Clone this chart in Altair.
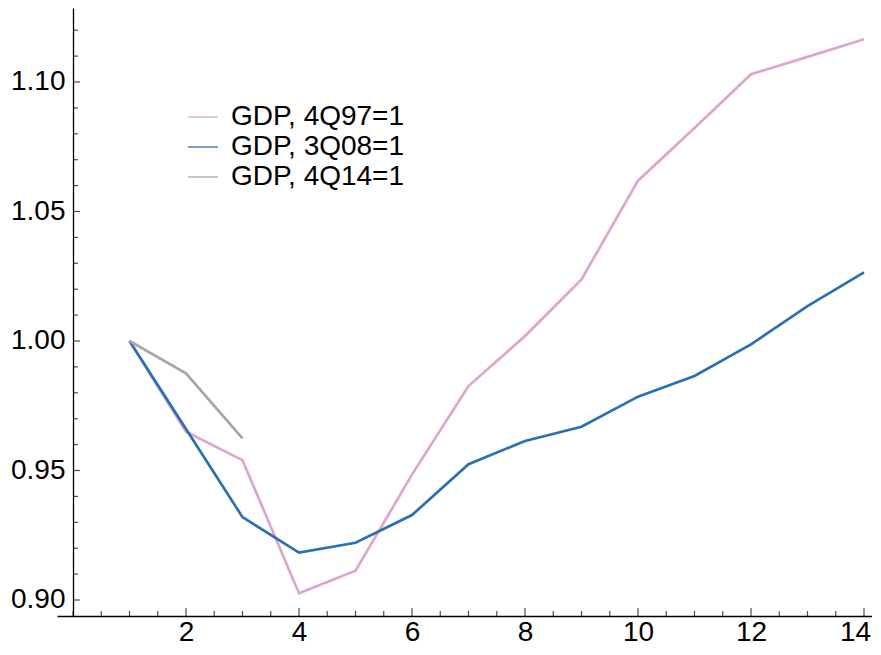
import altair as alt
import pandas as pd

# ---- data ----
quarters = list(range(1, 15))
gdp_4q97 = [1.000, 0.965, 0.954, 0.9026, 0.9113, 0.9484, 0.9826, 1.0019, 1.0238,
            1.0619, 1.0822, 1.103, 1.1097, 1.1165]
gdp_3q08 = [1.000, 0.966, 0.932, 0.9183, 0.9221, 0.9328, 0.9524, 0.9614, 0.9669,
            0.9785, 0.9865, 0.9987, 1.0135, 1.0265]
gdp_4q14 = [1.000, 0.9875, 0.9624]

series_names = ["GDP, 4Q97=1", "GDP, 3Q08=1", "GDP, 4Q14=1"]
series_colors = ["#DDA6CF", "#2C6FB3", "#A6A6A6"]

x_major = [2, 4, 6, 8, 10, 12, 14]
x_minor = [v / 2 for v in range(0, 29)]
y_major = [0.90, 0.95, 1.00, 1.05, 1.10]
y_minor = [round(0.90 + i * 0.01, 2) for i in range(0, 23)]

XDOM = [-0.28319, 14.1416]
YDOM = [0.893822, 1.12857]

rows = []
for name, vals in zip(series_names, [gdp_4q97, gdp_3q08, gdp_4q14]):
    for q, v in zip(quarters, vals):
        rows.append({"q": q, "v": v, "series": name})
df = pd.DataFrame(rows)

FONT = "Liberation Sans"
FS = 28
xscale = alt.Scale(domain=XDOM, nice=False, zero=False)
yscale = alt.Scale(domain=YDOM, nice=False, zero=False)
cscale = alt.Scale(domain=series_names, range=series_colors)

xaxis = alt.Axis(values=x_major, ticks=False, grid=False, labelFontSize=FS, labelFont=FONT,
                 labelColor="black", labelPadding=2, domainColor="black", domainWidth=1.3,
                 title=None, format="d", labelFlush=False,
                 labelOffset={"condition": {"test": "datum.value === 14", "value": -9}, "value": 0})
yaxis = alt.Axis(values=y_major, ticks=False, grid=False, labelFontSize=FS, labelFont=FONT,
                 labelColor="black", labelPadding=8, domainColor="black", domainWidth=1.3,
                 title=None, format=".2f", offset=-16, labelFlush=False)


def line_layer(name, legend):
    return alt.Chart(df).transform_filter(alt.datum.series == name).mark_line(
        strokeWidth=2.7, clip=True
    ).encode(
        x=alt.X("q:Q", scale=xscale, axis=xaxis),
        y=alt.Y("v:Q", scale=yscale, axis=yaxis),
        color=alt.Color("series:N", scale=cscale, legend=legend),
    )


legend = alt.Legend(orient="none", legendX=130, legendY=93, title=None,
                    symbolType="stroke", symbolSize=900, symbolStrokeWidth=1.3,
                    labelFontSize=FS, labelFont=FONT, labelColor="black",
                    labelOffset=12, rowPadding=0, padding=0, labelLimit=400)

lines = [line_layer(n, legend) for n in series_names]

# tick marks (inward), positioned through the scales
xmaj_df = pd.DataFrame({"t": x_major})
xmin_df = pd.DataFrame({"t": [t for t in x_minor if t not in x_major]})
ymaj_df = pd.DataFrame({"t": y_major})
ymin_df = pd.DataFrame({"t": [t for t in y_minor if t not in y_major]})


def xticks(d, size):
    return alt.Chart(d).mark_tick(orient="vertical", size=size, thickness=1.2,
                                  color="black", yOffset=-size / 2).encode(
        x=alt.X("t:Q", scale=xscale, axis=xaxis),
        y=alt.Y(datum=YDOM[0], type="quantitative", scale=yscale, axis=yaxis),
    )


def yticks(d, size):
    return alt.Chart(d).mark_tick(orient="horizontal", size=size, thickness=1.2,
                                  color="black", xOffset=size / 2).encode(
        y=alt.Y("t:Q", scale=yscale, axis=yaxis),
        x=alt.X(datum=0, type="quantitative", scale=xscale, axis=xaxis),
    )


ticks = [xticks(xmaj_df, 8), xticks(xmin_df, 5), yticks(ymaj_df, 7), yticks(ymin_df, 5)]

chart = alt.layer(*lines, *ticks).properties(
    width=815, height=608,
    background="white",
    autosize=alt.AutoSizeParams(type="none"),
    padding={"left": 49, "top": 0, "right": 0, "bottom": 31},
).configure_view(stroke=None, strokeWidth=0)

chart.save("out.html", embed_options={"renderer": "svg", "actions": False})
